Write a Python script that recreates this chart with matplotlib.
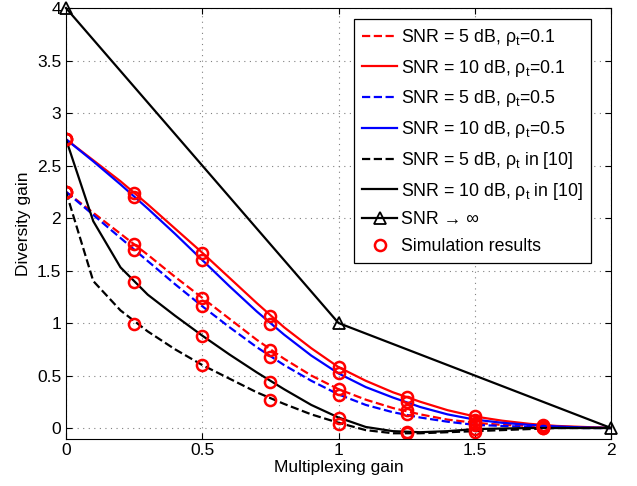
"""
Diversity-multiplexing tradeoff curves with simulation points
"""

import matplotlib
matplotlib.use('Agg')
import matplotlib.pyplot as plt

plt.rcParams['font.family'] = ['Liberation Sans', 'DejaVu Sans']
plt.rcParams['mathtext.fontset'] = 'custom'
plt.rcParams['mathtext.rm'] = 'Liberation Sans'
plt.rcParams['mathtext.it'] = 'Liberation Sans'

# Analytical curves, read every 0.1 of multiplexing gain
r_line = [0.0, 0.1, 0.2, 0.3, 0.4, 0.5, 0.6, 0.7, 0.8, 0.9, 1.0,
          1.1, 1.2, 1.3, 1.4, 1.5, 1.6, 1.7, 1.8, 1.9, 2.0]
d_5db_01 = [2.25, 2.05, 1.85, 1.65, 1.44, 1.24, 1.04, 0.84, 0.66, 0.50, 0.37,
            0.27, 0.19, 0.13, 0.08, 0.05, 0.03, 0.02, 0.01, 0.005, 0.0]
d_10db_01 = [2.75, 2.55, 2.35, 2.13, 1.90, 1.67, 1.43, 1.19, 0.96, 0.76, 0.58,
             0.45, 0.34, 0.25, 0.17, 0.11, 0.07, 0.04, 0.02, 0.01, 0.0]
d_5db_05 = [2.25, 2.03, 1.81, 1.59, 1.37, 1.16, 0.96, 0.77, 0.60, 0.45, 0.32,
            0.22, 0.15, 0.10, 0.06, 0.03, 0.02, 0.01, 0.005, 0.0, 0.0]
d_10db_05 = [2.75, 2.54, 2.32, 2.09, 1.85, 1.60, 1.35, 1.11, 0.89, 0.69, 0.52,
             0.39, 0.29, 0.20, 0.13, 0.08, 0.05, 0.03, 0.015, 0.005, 0.0]
d_5db_ref = [2.25, 1.40, 1.12, 0.92, 0.75, 0.60, 0.47, 0.34, 0.23, 0.13, 0.05,
             -0.02, -0.05, -0.05, -0.04, -0.03, -0.02, -0.01, 0.0, 0.0, 0.0]
d_10db_ref = [2.75, 1.97, 1.53, 1.27, 1.07, 0.88, 0.70, 0.53, 0.37, 0.22, 0.10,
              0.01, -0.03, -0.04, -0.03, -0.01, -0.005, 0.0, 0.0, 0.0, 0.0]

# High-SNR limit
r_inf = [0, 1, 2]
d_inf = [4, 1, 0]

# Simulation results
r_sim = [0, 0.25, 0.5, 0.75, 1.0, 1.25, 1.5, 1.75]
sim_5db_01 = [2.25, 1.75, 1.24, 0.74, 0.37, 0.17, 0.05, 0.02]
sim_10db_01 = [2.75, 2.24, 1.67, 1.07, 0.58, 0.30, 0.11, 0.03]
sim_5db_05 = [2.25, 1.70, 1.16, 0.68, 0.31, 0.13, 0.03, 0.01]
sim_10db_05 = [2.75, 2.20, 1.60, 0.99, 0.52, 0.25, 0.08, 0.02]
sim_5db_ref = [2.25, 0.99, 0.60, 0.27, 0.04, -0.05, -0.04, 0.0]
sim_10db_ref = [2.75, 1.39, 0.88, 0.44, 0.10, -0.04, -0.01, 0.0]

fig = plt.figure(figsize=(6.37, 4.86), dpi=100)
ax = fig.add_axes([0.1036, 0.0977, 0.8556, 0.8858])

lw = 1.6
ax.plot(r_line, d_5db_01, 'r--', lw=lw, label=r'SNR = 5 dB, $\rho_t$=0.1')
ax.plot(r_line, d_10db_01, 'r-', lw=lw, label=r'SNR = 10 dB, $\rho_t$=0.1')
ax.plot(r_line, d_5db_05, 'b--', lw=lw, label=r'SNR = 5 dB, $\rho_t$=0.5')
ax.plot(r_line, d_10db_05, 'b-', lw=lw, label=r'SNR = 10 dB, $\rho_t$=0.5')
ax.plot(r_line, d_5db_ref, 'k--', lw=lw, label=r'SNR = 5 dB, $\rho_t$ in [10]')
ax.plot(r_line, d_10db_ref, 'k-', lw=lw, label=r'SNR = 10 dB, $\rho_t$ in [10]')
ax.plot(r_inf, d_inf, 'k-^', lw=lw, ms=8, mfc='none', mew=1.3,
        label='SNR → ∞', clip_on=False)

sims = [sim_5db_01, sim_10db_01, sim_5db_05, sim_10db_05, sim_5db_ref, sim_10db_ref]
for i, s in enumerate(sims):
    ax.plot(r_sim, s, 'o', color='red', ms=8, mfc='none', mew=1.8,
            label='Simulation results' if i == 0 else None)

ax.set_xlim(0, 2)
ax.set_ylim(-0.1, 4)
ax.set_xticks([0, 0.5, 1, 1.5, 2])
ax.set_xticklabels(['0', '0.5', '1', '1.5', '2'])
ax.set_yticks([0, 0.5, 1, 1.5, 2, 2.5, 3, 3.5, 4])
ax.set_yticklabels(['0', '0.5', '1', '1.5', '2', '2.5', '3', '3.5', '4'])
ax.tick_params(direction='in', labelsize=12.5, length=4, top=True, right=True)
ax.grid(True, linestyle=(0, (1, 4)), color='0.5', lw=0.8)
ax.set_xlabel('Multiplexing gain', fontsize=12.5, labelpad=1)
ax.set_ylabel('Diversity gain', fontsize=12.5, labelpad=4)

leg = ax.legend(loc='upper right', bbox_to_anchor=(0.963, 0.975),
                fontsize=12.8, handlelength=2.0, handletextpad=0.2,
                labelspacing=0.55, borderpad=0.45, fancybox=False,
                framealpha=1, borderaxespad=0)
leg.get_frame().set_edgecolor('black')
leg.get_frame().set_linewidth(0.9)

fig.savefig('out.png', dpi=100)
